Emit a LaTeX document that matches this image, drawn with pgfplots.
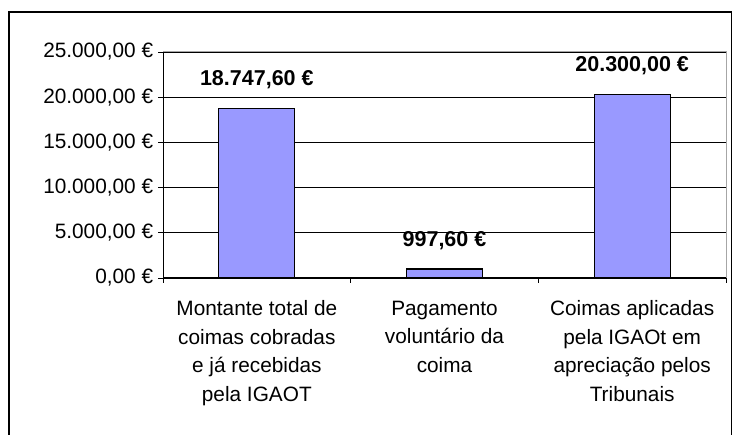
\documentclass[border=0pt]{standalone}
\usepackage{pgfplots}
\pgfplotsset{compat=1.18}
\usepackage{fontspec}
\setmainfont{Liberation Sans}
\definecolor{barfill}{HTML}{9999FF}
\begin{document}
\fontsize{20}{28}\selectfont
\begin{tikzpicture}
\useasboundingbox (0,0) rectangle (733pt,435pt);
\draw[line width=1.2pt] (9pt,-5pt) rectangle (731.5pt,423pt);
\begin{axis}[
  at={(163pt,157pt)}, anchor=south west,
  width=563pt, height=226pt, scale only axis,
  xmin=-0.5, xmax=2.5, ymin=0, ymax=25000,
  scaled y ticks=false,
  ytick={0,5000,10000,15000,20000,25000},
  yticklabels={{0,00 €},{5.000,00 €},{10.000,00 €},{15.000,00 €},{20.000,00 €},{25.000,00 €}},
  xtick={-0.5,0.5,1.5,2.5},
  xticklabels={},
  extra x ticks={0,1,2},
  extra x tick labels={{Montante total de\\coimas cobradas\\e já recebidas\\pela IGAOT},{Pagamento\\voluntário da\\coima},{Coimas aplicadas\\pela IGAOt em\\apreciação pelos\\Tribunais}},
  extra x tick style={major tick length=0pt, grid=none, tick label style={align=center, font=\fontsize{20.8}{28.5}\selectfont, yshift=-16pt}},
  xtick pos=bottom, ytick pos=left,
  tick align=outside, major tick length=5pt,
  tick style={black, line width=0.9pt},
  yticklabel style={font=\fontsize{20.8}{24}\selectfont, xshift=2pt},
  ymajorgrids, major grid style={black, line width=0.9pt},
  axis line style={gray!70, line width=1pt},
  after end axis/.code={\draw[black, line width=1pt] (rel axis cs:0,1) -- (rel axis cs:0,0) -- (rel axis cs:1,0);},
  ybar, bar width=76pt,
  nodes near coords,
  point meta=explicit symbolic,
  every node near coord/.append style={font=\bfseries\fontsize{21.5}{24}\selectfont, black, yshift=12pt},
  clip=false,
]
\addplot[fill=barfill, draw=black, line width=1.2pt] coordinates {
  (0,18747.60) [18.747,60 €]
  (1,997.60) [997,60 €]
  (2,20300.00) [20.300,00 €]
};
\end{axis}
\end{tikzpicture}
\end{document}
